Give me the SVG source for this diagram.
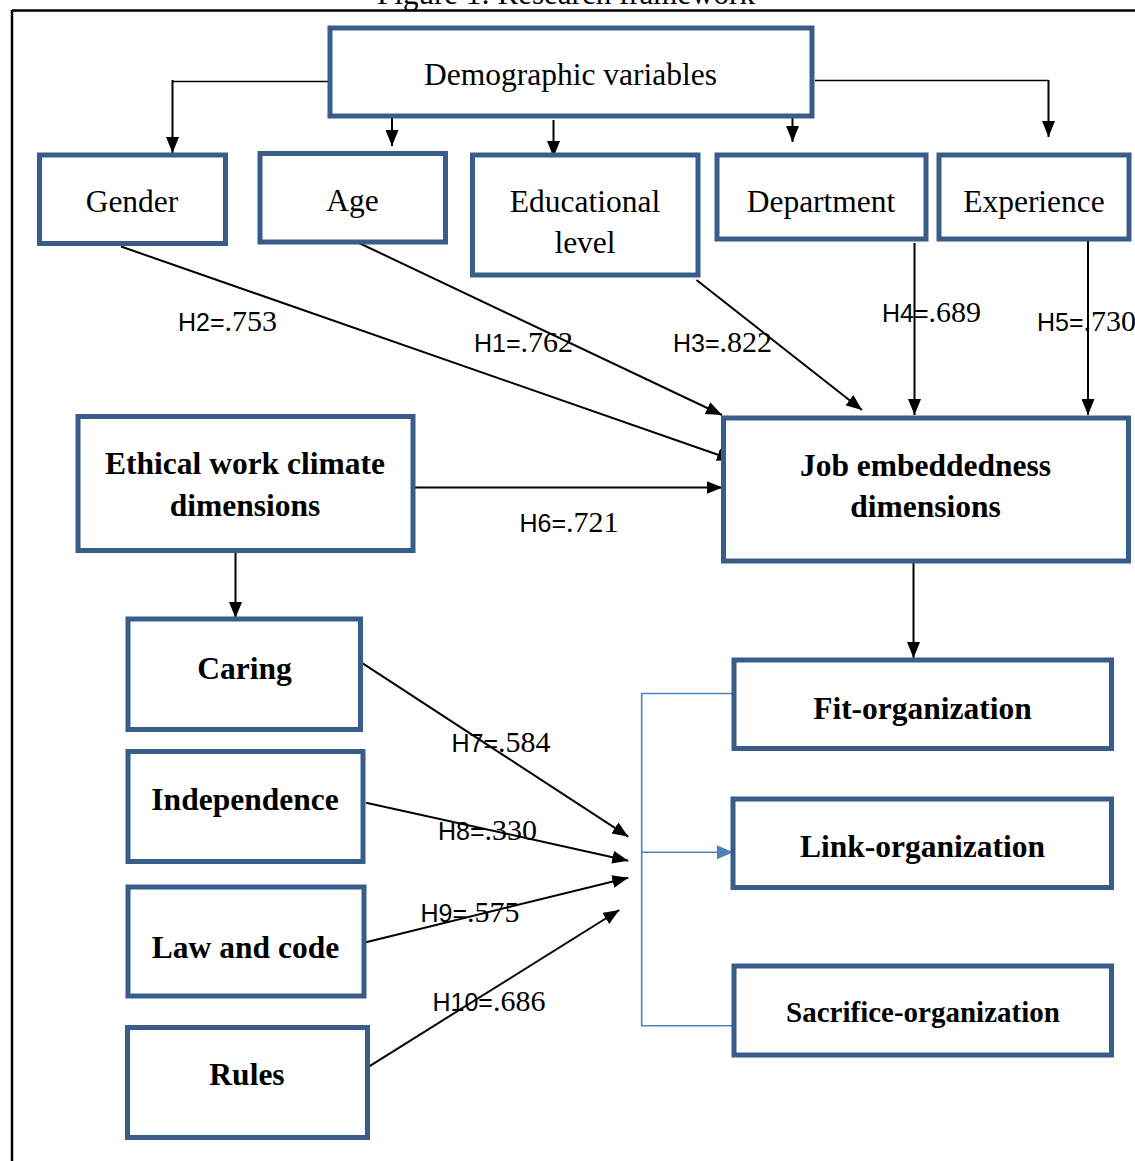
<svg xmlns="http://www.w3.org/2000/svg" width="1135" height="1161" viewBox="0 0 1135 1161">
<style>
.box{fill:#fff;stroke:#385D8A;stroke-width:5}
.t{font-family:"Liberation Serif","Times New Roman",serif;font-size:31.5px;fill:#000;text-anchor:middle}
.b{font-weight:bold}
.h{font-family:"Liberation Sans",Arial,sans-serif;font-size:25px;fill:#000}
.ln{stroke:#000;stroke-width:2;fill:none}
.thin{stroke:#000;stroke-width:1.4;fill:none}
.arr{marker-end:url(#ah)}
.blue{stroke:#4F81BD;stroke-width:1.6;fill:none}
</style>
<defs>
<marker id="ah" markerUnits="userSpaceOnUse" markerWidth="16" markerHeight="13" refX="16" refY="6.5" orient="auto">
<path d="M0,0 L16,6.5 L0,13 z" fill="#000"/>
</marker>
<marker id="ahb" markerUnits="userSpaceOnUse" markerWidth="16" markerHeight="14" refX="16" refY="7" orient="auto">
<path d="M0,0 L16,7 L0,14 z" fill="#4F81BD"/>
</marker>
</defs>
<rect width="1135" height="1161" fill="#fff"/>
<text x="566" y="4" class="t" style="font-size:31px">Figure 1: Research framework</text>
<path d="M12,10.5 H1135 M12,10 V1161" stroke="#000" stroke-width="2.5" fill="none"/>

<g id="connectors">
<path class="thin" d="M330,81.5 H172.5"/>
<line class="ln arr" x1="172.5" y1="80" x2="172.5" y2="153"/>
<path class="thin" d="M815,80.5 H1048.5"/>
<line class="ln arr" x1="1048.5" y1="80" x2="1048.5" y2="137"/>
<line class="ln arr" x1="392" y1="117" x2="392" y2="146"/>
<line class="ln arr" x1="553.5" y1="120" x2="553.5" y2="157"/>
<line class="ln arr" x1="792.5" y1="116" x2="792.5" y2="142"/>
<line class="ln arr" x1="121" y1="246.5" x2="733" y2="460"/>
<line class="ln arr" x1="359" y1="243" x2="722" y2="415"/>
<line class="ln arr" x1="696.5" y1="280" x2="862" y2="410"/>
<line class="ln arr" x1="914.5" y1="243" x2="914.5" y2="415"/>
<line class="ln arr" x1="1088" y1="238" x2="1088" y2="415"/>
<line class="ln arr" x1="413" y1="487.5" x2="722.5" y2="487.5"/>
<line class="ln arr" x1="235.5" y1="553" x2="235.5" y2="618"/>
<line class="ln arr" x1="913.5" y1="563" x2="913.5" y2="658"/>
<line class="ln arr" x1="362.7" y1="663.3" x2="628.3" y2="836.7"/>
<line class="ln arr" x1="366" y1="802.7" x2="628.3" y2="860.7"/>
<line class="ln arr" x1="366" y1="942.3" x2="628.3" y2="877.7"/>
<line class="ln arr" x1="366" y1="1068.3" x2="619.3" y2="910"/>
<path class="blue" d="M733,693.5 H641.7 V1025.7 H733"/>
<line class="blue" x1="641.7" y1="852.3" x2="733" y2="852.3" marker-end="url(#ahb)"/>
<text class="h" x="178" y="331">H2=<tspan font-family="Liberation Serif, serif" font-size="30">.753</tspan></text>
<text class="h" x="474" y="352">H1=<tspan font-family="Liberation Serif, serif" font-size="30">.762</tspan></text>
<text class="h" x="673" y="352">H3=<tspan font-family="Liberation Serif, serif" font-size="30">.822</tspan></text>
<text class="h" x="882" y="322">H4=<tspan font-family="Liberation Serif, serif" font-size="30">.689</tspan></text>
<text class="h" x="1037" y="331">H5=<tspan font-family="Liberation Serif, serif" font-size="30">.730</tspan></text>
<text class="h" x="519.5" y="532">H6=<tspan font-family="Liberation Serif, serif" font-size="30">.721</tspan></text>
<text class="h" x="451.5" y="751.5">H7=<tspan font-family="Liberation Serif, serif" font-size="30">.584</tspan></text>
<text class="h" x="438" y="840">H8=<tspan font-family="Liberation Serif, serif" font-size="30">.330</tspan></text>
<text class="h" x="420.5" y="921.5">H9=<tspan font-family="Liberation Serif, serif" font-size="30">.575</tspan></text>
<text class="h" x="432.5" y="1010.5">H10=<tspan font-family="Liberation Serif, serif" font-size="30">.686</tspan></text>
</g>

<g id="demographic"><rect class="box" x="330" y="28" width="482" height="88"/><text class="t" x="570.5" y="85">Demographic variables</text></g>
<g id="gender"><rect class="box" x="39.5" y="155" width="186" height="88.5"/><text class="t" x="132" y="212">Gender</text></g>
<g id="age"><rect class="box" x="260" y="153.5" width="185.5" height="88.5"/><text class="t" x="352.5" y="211">Age</text></g>
<g id="educational"><rect class="box" x="472.5" y="155" width="225.5" height="120"/><text class="t" x="585" y="212">Educational</text><text class="t" x="585" y="253">level</text></g>
<g id="department"><rect class="box" x="717" y="155" width="209" height="84"/><text class="t" x="821" y="212">Department</text></g>
<g id="experience"><rect class="box" x="939" y="155" width="190" height="84"/><text class="t" x="1034" y="212">Experience</text></g>
<g id="ethical"><rect class="box" x="78" y="416.5" width="335" height="134"/><text class="t b" x="245" y="473.5">Ethical work climate</text><text class="t b" x="245" y="516">dimensions</text></g>
<g id="job"><rect class="box" x="723.5" y="418" width="405" height="143"/><text class="t b" x="925.5" y="476">Job embeddedness</text><text class="t b" x="925.5" y="517">dimensions</text></g>
<g id="caring"><rect class="box" x="128" y="619" width="232.5" height="110.5"/><text class="t b" x="244.5" y="678.5">Caring</text></g>
<g id="independence"><rect class="box" x="128" y="751.5" width="235" height="110"/><text class="t b" x="245" y="810">Independence</text></g>
<g id="lawcode"><rect class="box" x="128" y="887" width="236" height="109"/><text class="t b" x="245.5" y="958">Law and code</text></g>
<g id="rules"><rect class="box" x="127.5" y="1027.5" width="240" height="110"/><text class="t b" x="247" y="1085">Rules</text></g>
<g id="fit"><rect class="box" x="734" y="660" width="377.5" height="88.5"/><text class="t b" x="922.5" y="718.5">Fit-organization</text></g>
<g id="link"><rect class="box" x="733" y="799" width="378.5" height="88.5"/><text class="t b" x="922.5" y="857">Link-organization</text></g>
<g id="sacrifice"><rect class="box" x="734" y="966" width="377.5" height="89"/><text class="t b" x="923" y="1022" style="font-size:29px">Sacrifice-organization</text></g>
</svg>
